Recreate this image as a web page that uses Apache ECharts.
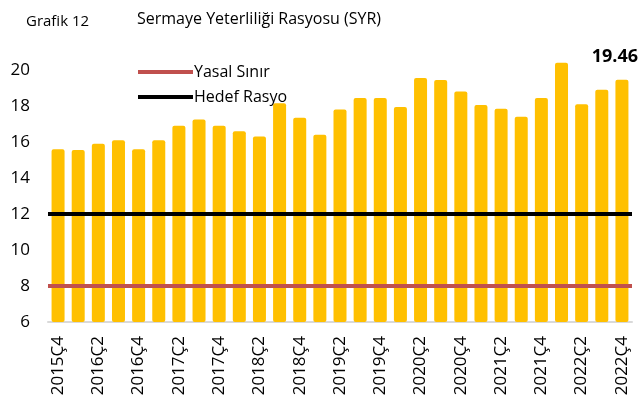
<!DOCTYPE html>
<html>
<head>
<meta charset="utf-8">
<script src="https://cdn.jsdelivr.net/npm/echarts@6/dist/echarts.min.js"></script>
<style>
  html, body { margin: 0; padding: 0; background: #fff; }
  #chart { width: 638px; height: 406px; }
</style>
</head>
<body>
<div id="chart"></div>
<script>
// quarters 2015Ç4 .. 2022Ç4
var quarters = [
  '2015Ç4',
  '2016Ç1', '2016Ç2', '2016Ç3', '2016Ç4',
  '2017Ç1', '2017Ç2', '2017Ç3', '2017Ç4',
  '2018Ç1', '2018Ç2', '2018Ç3', '2018Ç4',
  '2019Ç1', '2019Ç2', '2019Ç3', '2019Ç4',
  '2020Ç1', '2020Ç2', '2020Ç3', '2020Ç4',
  '2021Ç1', '2021Ç2', '2021Ç3', '2021Ç4',
  '2022Ç1', '2022Ç2', '2022Ç3', '2022Ç4'
];
var syr = [
  15.6,
  15.55, 15.9, 16.1, 15.6,
  16.1, 16.9, 17.25, 16.9,
  16.6, 16.3, 18.15, 17.35,
  16.4, 17.8, 18.45, 18.45,
  17.95, 19.55, 19.45, 18.8,
  18.05, 17.85, 17.4, 18.45,
  20.4, 18.1, 18.9, 19.46
];
var yasalSinir = 8;
var hedefRasyo = 12;
var yTicks = [6, 8, 10, 12, 14, 16, 18, 20, 22];

var fontFam = '"Open Sans", "Noto Sans", sans-serif';
var chart = echarts.init(document.getElementById('chart'));

var option = {
  animation: false,
  textStyle: { fontFamily: fontFam },
  title: [
    {
      text: 'Grafik 12',
      left: 21, top: 9,
      textStyle: { fontSize: 15, fontWeight: 'normal', color: '#000', fontFamily: fontFam }
    },
    {
      text: 'Sermaye Yeterliliği Rasyosu (SYR)',
      left: 132, top: 6,
      textStyle: { fontSize: 16, fontWeight: 'normal', color: '#000', fontFamily: fontFam }
    }
  ],
  legend: {
    orient: 'vertical',
    left: 133, top: 59,
    icon: 'rect',
    itemWidth: 55, itemHeight: 4,
    itemGap: 9,
    textStyle: { fontSize: 16, color: '#000', padding: [0, 0, 0, -4] },
    data: ['Yasal Sınır', 'Hedef Rasyo']
  },
  grid: { left: 48, right: 6, top: 34, bottom: 84 },
  xAxis: {
    type: 'category',
    data: quarters,
    axisLine: { lineStyle: { color: '#d9d9d9', width: 2 } },
    axisTick: { show: false },
    axisLabel: {
      interval: 1,
      rotate: 90,
      fontSize: 17,
      color: '#000',
      margin: 14
    }
  },
  yAxis: {
    type: 'value',
    min: yTicks[0],
    max: yTicks[yTicks.length - 1],
    interval: 2,
    splitLine: { show: false },
    axisLine: { show: false },
    axisTick: { show: false },
    axisLabel: { fontSize: 17, color: '#000', margin: 18, showMaxLabel: false }
  },
  series: [
    {
      name: 'SYR',
      type: 'bar',
      data: syr.map(function (v, i) {
        if (i === syr.length - 1) {
          return {
            value: v,
            label: {
              show: true, position: 'top', distance: 12, offset: [-7, -2],
              fontSize: 18, fontWeight: 'bold', color: '#000',
              formatter: function (p) { return p.value.toFixed(2); }
            }
          };
        }
        return v;
      }),
      barWidth: 13,
      itemStyle: { color: '#FFC000', borderRadius: 2 },
      z: 1
    },
    {
      name: 'Yasal Sınır',
      type: 'line',
      data: [],
      symbol: 'none',
      color: '#C0504D',
      lineStyle: { width: 4, color: '#C0504D' },
      markLine: {
        silent: true,
        symbol: 'none',
        label: { show: false },
        lineStyle: { color: '#C0504D', width: 4, type: 'solid' },
        data: [{ yAxis: yasalSinir }]
      },
      z: 3
    },
    {
      name: 'Hedef Rasyo',
      type: 'line',
      data: [],
      symbol: 'none',
      color: '#000',
      lineStyle: { width: 4, color: '#000' },
      markLine: {
        silent: true,
        symbol: 'none',
        label: { show: false },
        lineStyle: { color: '#000', width: 4, type: 'solid' },
        data: [{ yAxis: hedefRasyo }]
      },
      z: 3
    }
  ]
};

chart.setOption(option);
</script>
</body>
</html>
